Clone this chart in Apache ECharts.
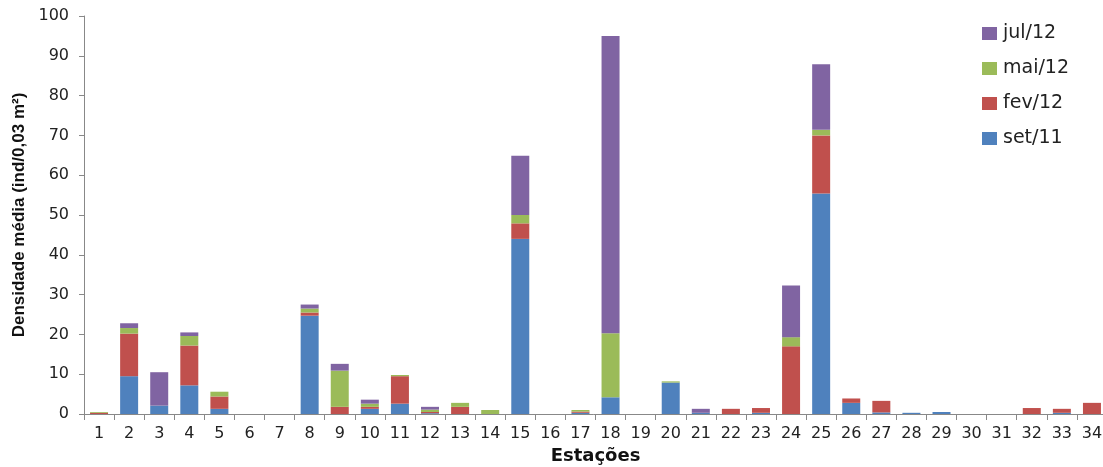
<!DOCTYPE html>
<html>
<head>
<meta charset="utf-8">
<script src="https://cdn.jsdelivr.net/npm/echarts@6/dist/echarts.min.js"></script>
<style>
  html, body { margin: 0; padding: 0; background: #fff; }
  #chart { width: 1103px; height: 467px; }
</style>
</head>
<body>
<div id="chart"></div>
<script>
// Estações 1..34
const stations = ['1','2','3','4','5','6','7','8','9','10','11','12','13','14','15','16','17',
  '18','19','20','21','22','23','24','25','26','27','28','29','30','31','32','33','34'];

// Densidade média por campanha (ind/0,03 m²)
const set11 = [0, 9.5, 2.1, 7.2, 1.3, 0, 0, 24.7, 0, 1.3, 2.6, 0.2, 0, 0, 44.0, 0, 0.3,
  4.2, 0, 7.9, 0.3, 0, 0.3, 0, 55.4, 2.8, 0.4, 0.3, 0.5, 0, 0, 0, 0.3, 0];
const fev12 = [0.3, 10.7, 0, 10.0, 3.1, 0, 0, 0.8, 1.8, 0.5, 6.9, 0.3, 1.8, 0, 3.9, 0, 0.3,
  0, 0, 0, 0, 1.3, 1.2, 17.0, 14.6, 1.1, 2.9, 0, 0, 0, 0, 1.5, 1.0, 2.8];
const mai12 = [0.2, 1.4, 0, 2.4, 1.2, 0, 0, 1.0, 9.1, 0.8, 0.3, 0.6, 1.0, 1.0, 2.1, 0, 0.4,
  16.1, 0, 0.3, 0, 0, 0, 2.3, 1.4, 0, 0, 0, 0, 0, 0, 0, 0, 0];
const jul12 = [0, 1.2, 8.4, 0.9, 0, 0, 0, 1.0, 1.7, 1.0, 0, 0.7, 0, 0, 14.9, 0, 0,
  74.7, 0, 0, 1.0, 0, 0, 13.0, 16.5, 0, 0, 0, 0, 0, 0, 0, 0, 0];

const yTicks = { min: 0, max: 100, step: 10 };

const colors = { set: '#4F81BD', fev: '#C0504D', mai: '#9BBB59', jul: '#8064A2' };

const chart = echarts.init(document.getElementById('chart'), null, { renderer: 'canvas' });

function stackSeries(name, data, color) {
  return {
    name: name,
    type: 'bar',
    stack: 'total',
    data: data,
    barWidth: 18,
    itemStyle: { color: color },
    emphasis: { disabled: true }
  };
}

chart.setOption({
  animation: false,
  backgroundColor: '#fff',
  grid: { left: 84, top: 16, width: 1023, height: 398, containLabel: false, outerBoundsMode: 'none' },
  legend: {
    orient: 'vertical',
    left: 982,
    top: 24,
    padding: 0,
    itemWidth: 15,
    itemHeight: 13,
    itemGap: 16,
    icon: 'rect',
    data: ['jul/12', 'mai/12', 'fev/12', 'set/11'],
    textStyle: { fontFamily: 'DejaVu Sans', fontSize: 19, color: '#222', padding: [0, 0, 0, 1] }
  },
  xAxis: {
    type: 'category',
    data: stations,
    name: 'Estações',
    nameLocation: 'middle',
    nameGap: 31,
    nameTextStyle: { fontFamily: 'DejaVu Sans', fontWeight: 'bold', fontSize: 18, color: '#111' },
    axisLine: { lineStyle: { color: '#888', width: 1 } },
    axisTick: { show: true, alignWithLabel: false, length: 6, lineStyle: { color: '#888' } },
    axisLabel: { fontFamily: 'DejaVu Sans', fontSize: 16, color: '#222', margin: 12, interval: 0 }
  },
  yAxis: {
    type: 'value',
    min: yTicks.min,
    max: yTicks.max,
    interval: yTicks.step,
    name: 'Densidade média (ind/0,03 m²)',
    nameLocation: 'middle',
    nameGap: 53,
    nameTextStyle: { fontFamily: 'Liberation Sans', fontWeight: 'bold', fontSize: 17, color: '#111' },
    axisLine: { show: true, lineStyle: { color: '#888', width: 1 } },
    axisTick: { show: true, length: 5, lineStyle: { color: '#888' } },
    splitLine: { show: false },
    axisLabel: { fontFamily: 'DejaVu Sans', fontSize: 16, color: '#222', margin: 15 }
  },
  series: [
    stackSeries('set/11', set11, colors.set),
    stackSeries('fev/12', fev12, colors.fev),
    stackSeries('mai/12', mai12, colors.mai),
    stackSeries('jul/12', jul12, colors.jul)
  ]
});
</script>
</body>
</html>
